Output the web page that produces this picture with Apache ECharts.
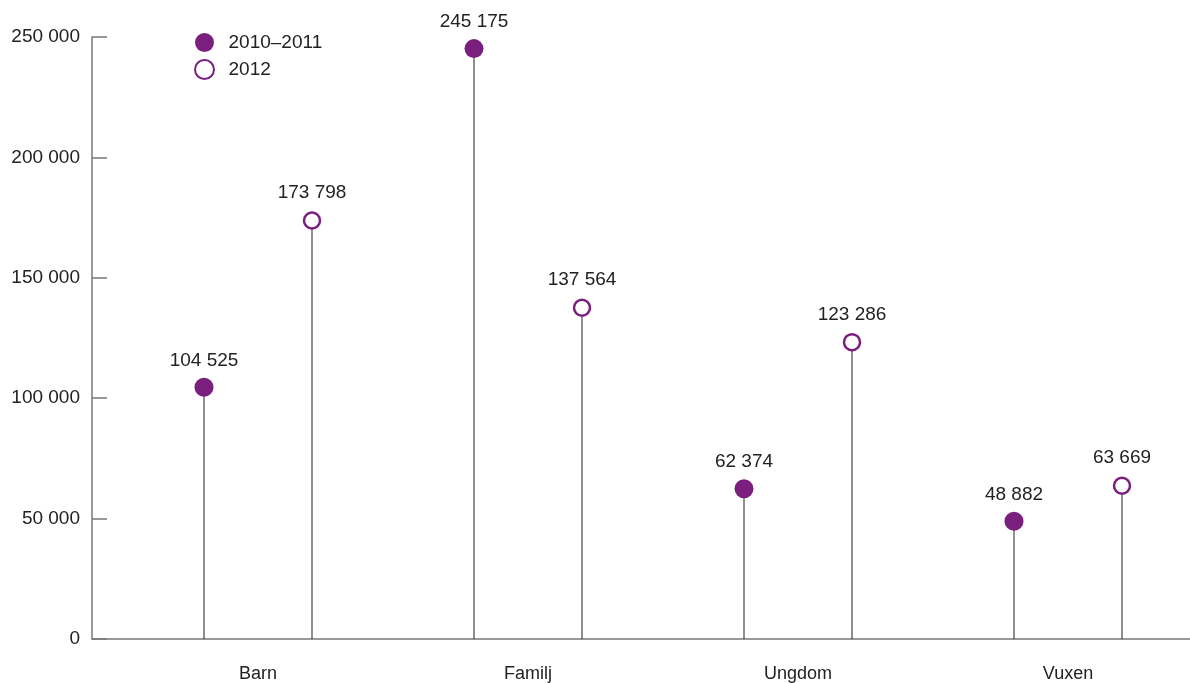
<!DOCTYPE html>
<html>
<head>
<meta charset="utf-8">
<script src="https://cdn.jsdelivr.net/npm/echarts@6/dist/echarts.min.js"></script>
<style>
html,body{margin:0;padding:0;background:#fff;}
#chart{width:1190px;height:683px;}
</style>
</head>
<body>
<div id="chart"></div>
<script>
const categories = ['Barn', 'Familj', 'Ungdom', 'Vuxen'];
const values2010_2011 = [104525, 245175, 62374, 48882];
const values2012 = [173798, 137564, 123286, 63669];
const yTicks = [0, 50000, 100000, 150000, 200000, 250000];
const seriesNames = ['2010\u20132011', '2012'];

const PURPLE = '#7b1f7e';
const fmt = v => String(v).replace(/\B(?=(\d{3})+(?!\d))/g, ' ');
const FONT = 'Liberation Sans';

const chart = echarts.init(document.getElementById('chart'), null, {renderer: 'canvas'});
chart.setOption({
  animation: false,
  backgroundColor: '#fff',
  textStyle: {fontFamily: FONT},
  grid: [
    {left: 123, width: 1080, top: 37, bottom: 44, containLabel: false, outerBoundsMode: 'none'},
    {left: 92, right: 0, top: 37, bottom: 44, containLabel: false, outerBoundsMode: 'none'}
  ],
  legend: {
    data: seriesNames,
    orient: 'vertical',
    left: 189,
    top: 28,
    itemWidth: 20,
    itemHeight: 19,
    itemGap: 7,
    textStyle: {fontSize: 19, color: '#222', fontFamily: FONT, padding: [0, 0, 0, 9]}
  },
  xAxis: [
    {
      type: 'category', gridIndex: 0, data: categories,
      axisLine: {show: false}, axisTick: {show: false},
      axisLabel: {margin: 26, fontSize: 18, color: '#222', fontFamily: FONT}
    },
    {
      type: 'category', gridIndex: 1, data: categories,
      axisLine: {show: true, lineStyle: {color: '#777', width: 1.5}},
      axisTick: {show: false}, axisLabel: {show: false}
    }
  ],
  yAxis: [
    {type: 'value', gridIndex: 0, min: yTicks[0], max: yTicks[yTicks.length - 1], interval: 50000, show: false, splitLine: {show: false}},
    {
      type: 'value', gridIndex: 1, min: yTicks[0], max: yTicks[yTicks.length - 1], interval: 50000,
      axisLine: {show: true, lineStyle: {color: '#777', width: 1.5}},
      axisTick: {show: true, inside: true, length: 15, lineStyle: {color: '#777', width: 1.5}},
      splitLine: {show: false},
      axisLabel: {margin: 12, fontSize: 19, color: '#222', fontFamily: FONT, formatter: v => fmt(v)}
    }
  ],
  series: [
    {
      name: 'stem1', type: 'bar', xAxisIndex: 0, yAxisIndex: 0,
      data: values2010_2011, barWidth: 1, barGap: '10700%',
      itemStyle: {color: '#222'}, z: 1, silent: true
    },
    {
      name: 'stem2', type: 'bar', xAxisIndex: 0, yAxisIndex: 0,
      data: values2012, barWidth: 1, barGap: '10700%',
      itemStyle: {color: '#222'}, z: 1, silent: true
    },
    {
      name: seriesNames[0], type: 'scatter', xAxisIndex: 0, yAxisIndex: 0,
      data: values2010_2011, symbol: 'circle', symbolSize: 19, symbolOffset: [-54, 0],
      itemStyle: {color: PURPLE, opacity: 1}, z: 5,
      label: {show: true, position: 'top', distance: 8, fontSize: 19, color: '#222', fontFamily: FONT,
        formatter: p => fmt(p.value)}
    },
    {
      name: seriesNames[1], type: 'scatter', xAxisIndex: 0, yAxisIndex: 0,
      data: values2012, symbol: 'circle', symbolSize: 16, symbolOffset: [54, 0],
      itemStyle: {color: '#fff', borderColor: PURPLE, borderWidth: 2.5, opacity: 1}, z: 5,
      label: {show: true, position: 'top', distance: 9, fontSize: 19, color: '#222', fontFamily: FONT,
        formatter: p => fmt(p.value)}
    }
  ]
});
</script>
</body>
</html>
